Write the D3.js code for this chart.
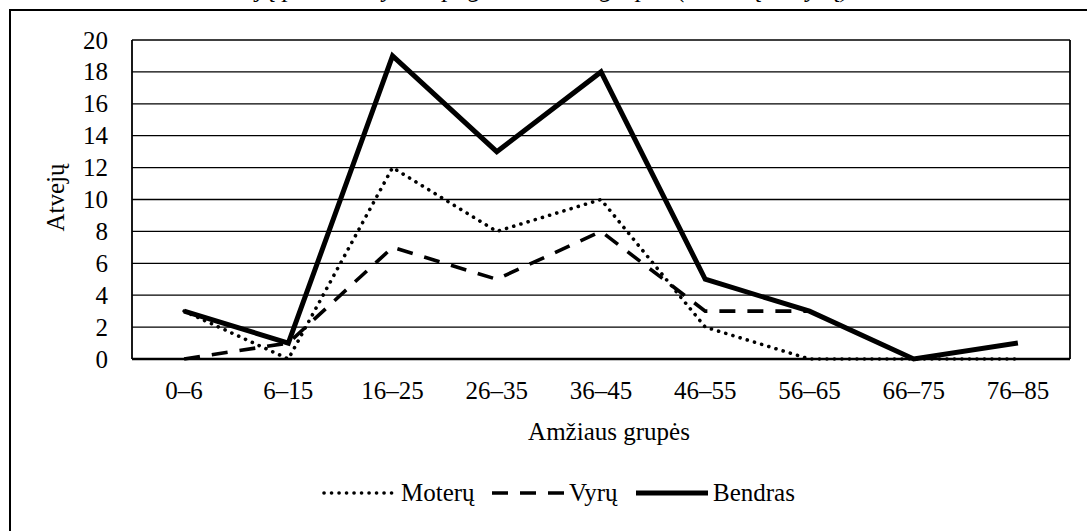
<!DOCTYPE html>
<html lang="lt">
  <head>
    <meta charset="UTF-8" />
    <title>Atvejai pagal amžiaus grupes</title>
    <script src="https://d3js.org/d3.v7.min.js"></script>
    <style>
      body { margin: 0; background: #fff; }
      svg { display: block; }
      svg text { font-family: "Liberation Serif", "Times New Roman", serif; fill: #000; }
    </style>
  </head>
  <body>
    <svg width="1087" height="531"></svg>
    <script>
      const categories = ["0–6", "6–15", "16–25", "26–35", "36–45", "46–55", "56–65", "66–75", "76–85"];
      const moteru = [3, 0, 12, 8, 10, 2, 0, 0, 0];
      const vyru = [0, 1, 7, 5, 8, 3, 3, null, null];
      const bendras = [3, 1, 19, 13, 18, 5, 3, 0, 1];
      const yTicks = [0, 2, 4, 6, 8, 10, 12, 14, 16, 18, 20];

      const SERIF = '"Liberation Serif", "Times New Roman", serif';
      const svg = d3.select("svg");
      const MARGIN = { TOP: 40, LEFT: 132, RIGHT: 17, BOTTOM: 172 };
      const WIDTH = 1087 - MARGIN.LEFT - MARGIN.RIGHT;
      const HEIGHT = 531 - MARGIN.TOP - MARGIN.BOTTOM;

      // title, cut off by the top edge like in the source
      svg.append("text")
        .attr("x", 530)
        .attr("y", -3)
        .attr("text-anchor", "middle")
        .style("font-style", "italic")
        .style("font-size", "26px")
        .text("Atvejų pasiskirstymas pagal amžiaus grupes (Moterų ir Vyrų)");

      // outer frame
      svg.append("rect")
        .attr("x", 10).attr("y", 10)
        .attr("width", 1100).attr("height", 560)
        .attr("fill", "none")
        .attr("stroke", "#000")
        .attr("stroke-width", 2);

      const g = svg.append("g")
        .attr("transform", `translate(${MARGIN.LEFT}, ${MARGIN.TOP})`);

      const X = d3.scaleBand().domain(categories).range([0, WIDTH]);
      const Y = d3.scaleLinear().domain([0, 20]).range([HEIGHT, 0]);

      // grid
      g.append("g")
        .selectAll("line")
        .data(yTicks.slice(1))
        .join("line")
        .attr("x1", 0).attr("x2", WIDTH)
        .attr("y1", d => Y(d)).attr("y2", d => Y(d))
        .attr("stroke", "#000")
        .attr("stroke-width", 1.3);

      g.append("line")
        .attr("x1", 0).attr("x2", 0).attr("y1", 0).attr("y2", HEIGHT)
        .attr("stroke", "#000").attr("stroke-width", 1.8);
      g.append("line")
        .attr("x1", WIDTH).attr("x2", WIDTH).attr("y1", 0).attr("y2", HEIGHT)
        .attr("stroke", "#000").attr("stroke-width", 1.8);

      // axes
      const yAxis = g.append("g")
        .call(d3.axisLeft(Y).tickValues(yTicks).tickSize(0).tickPadding(24));
      yAxis.select(".domain").remove();
      yAxis.selectAll("text")
        .style("font-family", SERIF)
        .style("font-size", "25px");

      const xAxis = g.append("g")
        .attr("transform", `translate(0, ${HEIGHT})`)
        .call(d3.axisBottom(X).tickSize(0).tickPadding(22));
      xAxis.select(".domain").remove();
      xAxis.selectAll("text")
        .style("font-family", SERIF)
        .style("font-size", "25px");

      g.append("line")
        .attr("x1", 0).attr("x2", WIDTH).attr("y1", HEIGHT).attr("y2", HEIGHT)
        .attr("stroke", "#000").attr("stroke-width", 2.6);

      g.append("text")
        .attr("x", WIDTH / 2 + 8)
        .attr("y", HEIGHT + 81)
        .attr("text-anchor", "middle")
        .style("font-size", "25px")
        .text("Amžiaus grupės");

      g.append("text")
        .attr("transform", `translate(-68, ${HEIGHT / 2 - 2}) rotate(-90)`)
        .attr("text-anchor", "middle")
        .style("font-size", "25px")
        .text("Atvejų");

      const series = [
        { name: "Moterų", values: moteru, width: 3.6, dash: "0.1 7.4", cap: "round" },
        { name: "Vyrų", values: vyru, width: 3.6, dash: "16 12", cap: "butt" },
        { name: "Bendras", values: bendras, width: 5, dash: null, cap: "butt" },
      ];

      const line = d3.line()
        .defined(d => d.v !== null)
        .x(d => X(d.c) + X.bandwidth() / 2)
        .y(d => Y(d.v));

      g.append("g")
        .selectAll("path")
        .data(series)
        .join("path")
        .attr("d", s => line(s.values.map((v, i) => ({ c: categories[i], v }))))
        .attr("fill", "none")
        .attr("stroke", "#000")
        .attr("stroke-width", s => s.width)
        .attr("stroke-dasharray", s => s.dash)
        .attr("stroke-linecap", s => s.cap)
        .attr("stroke-linejoin", "miter");

      // legend
      const legendX = [324, 492, 636];
      const legend = svg.append("g")
        .selectAll("g")
        .data(series)
        .join("g")
        .attr("transform", (s, i) => `translate(${legendX[i]}, 493)`);

      legend.append("line")
        .attr("x1", 0).attr("x2", 72)
        .attr("stroke", "#000")
        .attr("stroke-width", s => s.width)
        .attr("stroke-dasharray", s => s.dash)
        .attr("stroke-linecap", s => s.cap);

      legend.append("text")
        .attr("x", 77)
        .attr("y", 8)
        .style("font-size", "25px")
        .text(s => s.name);
    </script>
  </body>
</html>
